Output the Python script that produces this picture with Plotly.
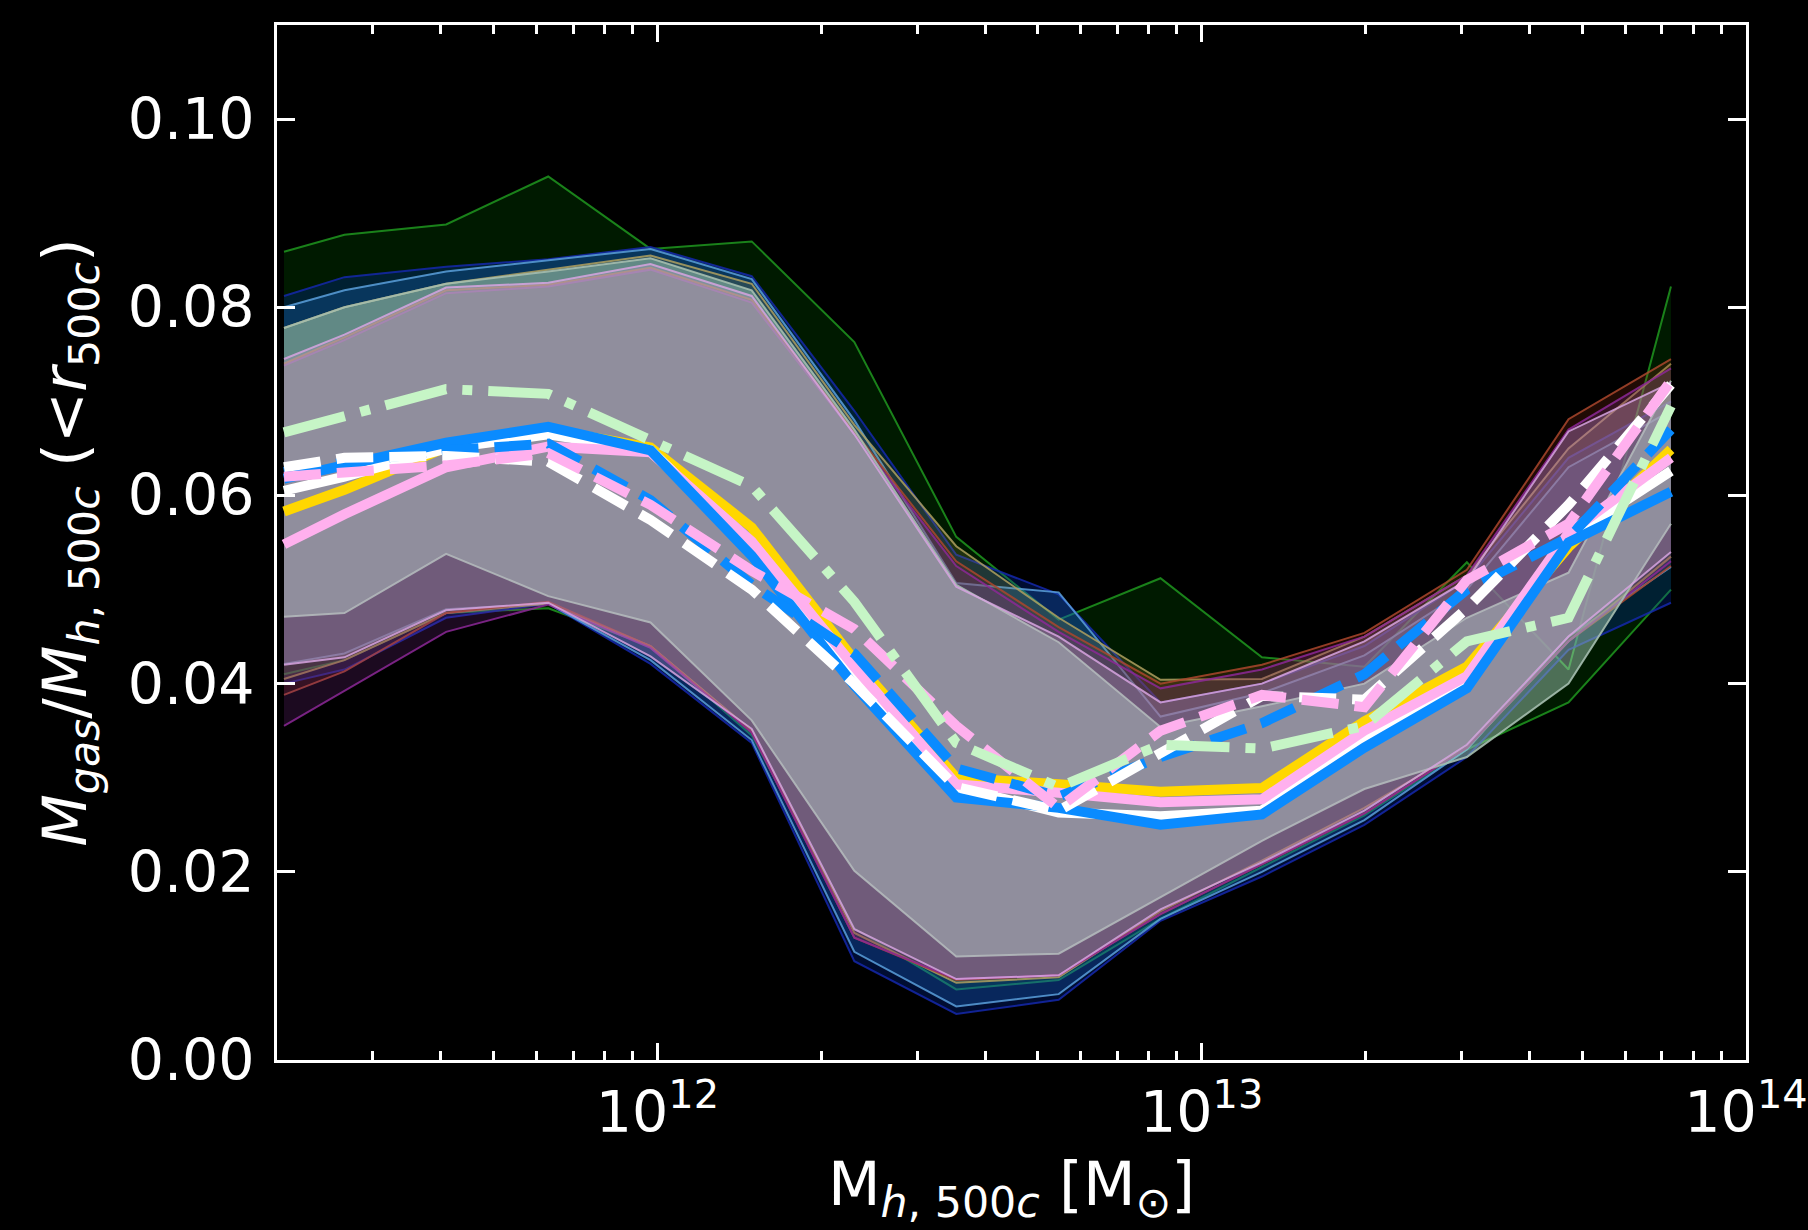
import plotly.graph_objects as go

# Halo-mass bin centres [Msun]
halo_mass = [2.06e11, 2.66e11, 4.09e11, 6.30e11, 9.71e11, 1.49e12, 2.30e12, 3.54e12,
             5.46e12, 8.40e12, 1.29e13, 1.99e13, 3.07e13, 4.72e13, 7.28e13]

# 16th-84th percentile bands (lower, upper) per simulation variant
band_green_lo = [0.0410, 0.0425, 0.0475, 0.0480, 0.0440, 0.0345, 0.0140, 0.0075, 0.0085, 0.0150, 0.0205, 0.0260, 0.0330, 0.0380, 0.0500]
band_green_hi = [0.0859, 0.0877, 0.0888, 0.0939, 0.0862, 0.0870, 0.0763, 0.0556, 0.0468, 0.0512, 0.0428, 0.0418, 0.0529, 0.0415, 0.0822]
band_navy_lo = [0.0400, 0.0415, 0.0470, 0.0485, 0.0421, 0.0337, 0.0105, 0.0049, 0.0064, 0.0148, 0.0195, 0.0250, 0.0322, 0.0436, 0.0486]
band_navy_hi = [0.0812, 0.0832, 0.0843, 0.0851, 0.0864, 0.0833, 0.0690, 0.0537, 0.0495, 0.0380, 0.0400, 0.0440, 0.0510, 0.0640, 0.0700]
band_sky_lo = [0.0421, 0.0432, 0.0479, 0.0485, 0.0425, 0.0340, 0.0115, 0.0057, 0.0070, 0.0150, 0.0200, 0.0255, 0.0330, 0.0450, 0.0524]
band_sky_hi = [0.0800, 0.0818, 0.0838, 0.0850, 0.0862, 0.0830, 0.0680, 0.0507, 0.0497, 0.0365, 0.0390, 0.0430, 0.0500, 0.0630, 0.0690]
band_olive_lo = [0.0405, 0.0425, 0.0475, 0.0485, 0.0440, 0.0350, 0.0135, 0.0082, 0.0088, 0.0158, 0.0212, 0.0268, 0.0332, 0.0445, 0.0535]
band_olive_hi = [0.0778, 0.0800, 0.0825, 0.0840, 0.0855, 0.0825, 0.0675, 0.0546, 0.0470, 0.0404, 0.0405, 0.0450, 0.0515, 0.0650, 0.0740]
band_brown_lo = [0.0388, 0.0413, 0.0475, 0.0487, 0.0440, 0.0348, 0.0130, 0.0085, 0.0090, 0.0155, 0.0208, 0.0262, 0.0332, 0.0445, 0.0525]
band_brown_hi = [0.0740, 0.0768, 0.0818, 0.0824, 0.0842, 0.0808, 0.0668, 0.0530, 0.0460, 0.0400, 0.0420, 0.0454, 0.0521, 0.0681, 0.0745]
band_purple_lo = [0.0355, 0.0392, 0.0455, 0.0484, 0.0438, 0.0348, 0.0130, 0.0086, 0.0090, 0.0155, 0.0208, 0.0262, 0.0332, 0.0445, 0.0530]
band_purple_hi = [0.0738, 0.0765, 0.0815, 0.0822, 0.0840, 0.0805, 0.0665, 0.0525, 0.0455, 0.0395, 0.0415, 0.0450, 0.0515, 0.0670, 0.0735]
band_sage_lo = [0.0471, 0.0475, 0.0538, 0.0493, 0.0465, 0.0361, 0.0201, 0.0110, 0.0113, 0.0173, 0.0233, 0.0288, 0.0322, 0.0400, 0.0570]
band_sage_hi = [0.0778, 0.0800, 0.0825, 0.0838, 0.0852, 0.0818, 0.0670, 0.0505, 0.0444, 0.0354, 0.0376, 0.0400, 0.0470, 0.0518, 0.0722]
band_plum_lo = [0.0420, 0.0428, 0.0478, 0.0486, 0.0429, 0.0352, 0.0139, 0.0086, 0.0090, 0.0160, 0.0210, 0.0265, 0.0335, 0.0450, 0.0540]
band_plum_hi = [0.0745, 0.0771, 0.0821, 0.0826, 0.0846, 0.0812, 0.0665, 0.0503, 0.0450, 0.0380, 0.0400, 0.0445, 0.0510, 0.0668, 0.0720]

# Median gas fractions
median_gold = [0.0583, 0.0606, 0.0651, 0.0670, 0.0651, 0.0566, 0.0425, 0.0300, 0.0293, 0.0285, 0.0289, 0.0360, 0.0418, 0.0545, 0.0649]
median_white = [0.0605, 0.0620, 0.0650, 0.0665, 0.0648, 0.0545, 0.0410, 0.0290, 0.0263, 0.0259, 0.0265, 0.0342, 0.0400, 0.0555, 0.0626]
median_pink = [0.0548, 0.0580, 0.0630, 0.0652, 0.0646, 0.0551, 0.0418, 0.0293, 0.0284, 0.0274, 0.0277, 0.0350, 0.0408, 0.0560, 0.0640]
median_blue = [0.0618, 0.0632, 0.0656, 0.0673, 0.0648, 0.0536, 0.0398, 0.0279, 0.0268, 0.0250, 0.0261, 0.0332, 0.0395, 0.0550, 0.0604]
median_blue_dash = [0.0625, 0.0635, 0.0648, 0.0655, 0.0595, 0.0505, 0.0432, 0.0310, 0.0280, 0.0322, 0.0358, 0.0410, 0.0500, 0.0555, 0.0670]
median_white_dash = [0.0630, 0.0640, 0.0642, 0.0636, 0.0574, 0.0500, 0.0400, 0.0290, 0.0265, 0.0325, 0.0387, 0.0383, 0.0480, 0.0590, 0.0718]
median_pink_dash = [0.0620, 0.0624, 0.0632, 0.0645, 0.0590, 0.0520, 0.0458, 0.0355, 0.0268, 0.0350, 0.0388, 0.0375, 0.0510, 0.0570, 0.0722]
median_green_dashdot = [0.0667, 0.0685, 0.0713, 0.0708, 0.0660, 0.0610, 0.0487, 0.0337, 0.0290, 0.0335, 0.0331, 0.0355, 0.0445, 0.0470, 0.0695]

x_tick_vals = [1e12, 1e13, 1e14]
x_tick_text = ["10<sup>12</sup>", "10<sup>13</sup>", "10<sup>14</sup>"]
y_tick_vals = [0.00, 0.02, 0.04, 0.06, 0.08, 0.10]

# (lower, upper, fill rgba, edge rgba) drawn bottom to top
bands = [
    (band_green_lo, band_green_hi, "rgba(0,128,0,0.20)", "rgba(30,150,30,0.85)"),
    (band_navy_lo, band_navy_hi, "rgba(0,50,200,0.25)", "rgba(20,40,170,0.85)"),
    (band_sky_lo, band_sky_hi, "rgba(30,120,220,0.25)", "rgba(90,160,220,0.85)"),
    (band_olive_lo, band_olive_hi, "rgba(160,150,70,0.20)", "rgba(175,160,95,0.85)"),
    (band_brown_lo, band_brown_hi, "rgba(150,50,25,0.22)", "rgba(170,70,45,0.85)"),
    (band_purple_lo, band_purple_hi, "rgba(140,50,160,0.20)", "rgba(140,40,150,0.85)"),
    (band_sage_lo, band_sage_hi, "rgba(170,215,190,0.45)", "rgba(165,190,175,0.9)"),
    (band_plum_lo, band_plum_hi, "rgba(220,170,225,0.25)", "rgba(215,165,225,0.85)"),
]

fig = go.Figure()

for lo, hi, fillc, edgec in bands:
    fig.add_trace(go.Scatter(x=halo_mass, y=lo, mode="lines",
                             line=dict(color=edgec, width=2), hoverinfo="skip",
                             showlegend=False))
    fig.add_trace(go.Scatter(x=halo_mass, y=hi, mode="lines", fill="tonexty",
                             fillcolor=fillc, line=dict(color=edgec, width=2),
                             hoverinfo="skip", showlegend=False))

dash_style = "37px,16px"
dashdot_style = "63px,16px,10px,16px"
medians = [
    (median_gold, "#FFD700", "solid"),
    (median_white, "#FFFFFF", "solid"),
    (median_pink, "#FFB0EE", "solid"),
    (median_blue, "#0A8BFF", "solid"),
    (median_blue_dash, "#0A8BFF", dash_style),
    (median_white_dash, "#FFFFFF", dash_style),
    (median_pink_dash, "#FFB0EE", dash_style),
    (median_green_dashdot, "#C6F5C6", dashdot_style),
]
for vals, col, dsh in medians:
    fig.add_trace(go.Scatter(x=halo_mass, y=vals, mode="lines",
                             line=dict(color=col, width=10, dash=dsh),
                             hoverinfo="skip", showlegend=False))

minor_x = [k * 10 ** e for e in (11, 12, 13) for k in range(2, 10)]

tick_font = dict(family="DejaVu Sans", color="white", size=57)
title_font = dict(family="DejaVu Sans", color="white", size=61)

fig.update_layout(
    width=1808, height=1230,
    paper_bgcolor="black", plot_bgcolor="black",
    margin=dict(l=277, r=62, t=25, b=170, autoexpand=False),
    font=tick_font,
    xaxis=dict(
        type="log", range=[11.301, 14.0], automargin=False,
        tickmode="array", tickvals=x_tick_vals, ticktext=x_tick_text,
        tickfont=tick_font,
        ticks="inside", ticklen=17, tickwidth=3, tickcolor="white",
        showline=True, linewidth=3, linecolor="white", mirror="allticks",
        showgrid=False, zeroline=False, ticklabelstandoff=1,
        minor=dict(tickmode="array", tickvals=minor_x, ticks="inside",
                   ticklen=9, tickwidth=2.5, tickcolor="white", showgrid=False),
        title=dict(text="M<sub><i>h</i>, 500<i>c</i></sub> [M<sub>⊙</sub>]",
                   font=title_font, standoff=18),
    ),
    yaxis=dict(
        range=[0, 0.11], automargin=False,
        tickmode="array", tickvals=y_tick_vals, tickformat=".2f",
        tickfont=tick_font,
        ticks="inside", ticklen=18, tickwidth=3, tickcolor="white",
        showline=True, linewidth=3, linecolor="white", mirror="allticks",
        showgrid=False, zeroline=False, ticklabelstandoff=8,
        title=dict(text="<i>M</i><sub><i>gas</i></sub>/<i>M</i><sub><i>h</i>, 500<i>c</i></sub> (&lt;<i>r</i><sub>500<i>c</i></sub>)",
                   font=title_font, standoff=22),
    ),
)

fig.write_html("out.html")
